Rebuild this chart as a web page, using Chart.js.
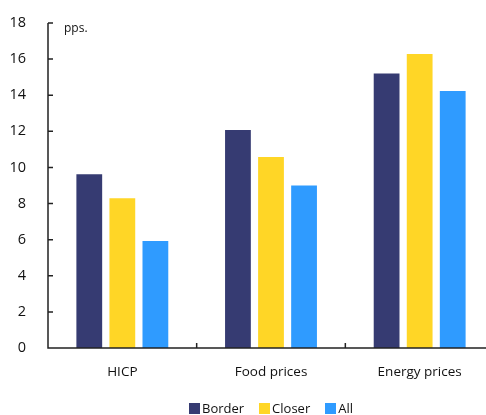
<!DOCTYPE html>
<html><head><meta charset="utf-8">
<script src="https://cdn.jsdelivr.net/npm/chart.js@4/dist/chart.umd.min.js"></script>
<style>
html,body{margin:0;padding:0;overflow:hidden;background:#fff;width:486px;height:415px;}
#wrap{position:relative;width:494px;height:415px;}
#legend{position:absolute;top:400px;left:189px;display:flex;font-family:"Open Sans",sans-serif;font-size:13px;color:#111;line-height:16px;}
#legend span{display:inline-flex;align-items:center;margin-right:15px}
#legend i{display:inline-block;width:11px;height:11px;margin-right:2px}
</style></head>
<body><div id="wrap"><canvas id="c" width="494" height="415"></canvas><div id="legend"></div></div>
<script>
const categories = ["HICP", "Food prices", "Energy prices"];
const border = [9.63, 12.07, 15.21];
const closer = [8.29, 10.58, 16.28];
const all = [5.92, 9.0, 14.23];
const seriesNames = ["Border", "Closer", "All"];
const colors = ["#363b72", "#ffd626", "#2f9bff"];
const yTicks = [0,2,4,6,8,10,12,14,16,18];

const FONT = "'Open Sans', sans-serif";
const axisPlugin = {
  id: 'axisPlugin',
  afterDraw(chart) {
    const ctx = chart.ctx, a = chart.chartArea;
    const y = chart.scales.y, x = chart.scales.x;
    ctx.save();
    ctx.strokeStyle = '#222'; ctx.lineWidth = 1.5;
    ctx.beginPath();
    ctx.moveTo(a.left, y.getPixelForValue(18)); ctx.lineTo(a.left, a.bottom);
    ctx.lineTo(a.right, a.bottom);
    yTicks.forEach(v => { const py = y.getPixelForValue(v); ctx.moveTo(a.left, py); ctx.lineTo(a.left + 5, py); });
    for (let i = 1; i < categories.length; i++) {
      const px = (x.getPixelForValue(i - 1) + x.getPixelForValue(i)) / 2;
      ctx.moveTo(px, a.bottom); ctx.lineTo(px, a.bottom - 5);
    }
    ctx.stroke();
    ctx.fillStyle = '#111'; ctx.font = '12px ' + FONT; ctx.textBaseline = 'middle';
    ctx.fillText('pps.', a.left + 16, y.getPixelForValue(17.7));
    ctx.restore();
  }
};

new Chart(document.getElementById('c'), {
  type: 'bar',
  data: {
    labels: categories,
    datasets: [border, closer, all].map((d, i) => ({
      label: seriesNames[i], data: d, backgroundColor: colors[i],
      barPercentage: 0.78, categoryPercentage: 0.667
    }))
  },
  options: {
    responsive: false, animation: false,
    layout: { padding: { top: 23, left: 0, right: 0, bottom: 0 } },
    plugins: { legend: { display: false }, tooltip: { enabled: false } },
    scales: {
      x: {
        grid: { display: false }, border: { display: false },
        ticks: { color: '#111', font: { family: FONT, size: 13.5 }, padding: 8, maxRotation: 0 },
        afterFit(s) { s.height = 67; }
      },
      y: {
        min: 0, max: 18,
        afterBuildTicks(s) { s.ticks = yTicks.map(v => ({ value: v })); },
        grid: { display: false }, border: { display: false },
        ticks: { color: '#111', font: { family: FONT, size: 14.5 }, padding: 14 },
        afterFit(s) { s.width = 48; }
      }
    }
  },
  plugins: [axisPlugin]
});

const lg = document.getElementById('legend');
seriesNames.forEach((n, i) => {
  const s = document.createElement('span');
  s.innerHTML = '<i style="background:' + colors[i] + '"></i>' + n;
  lg.appendChild(s);
});
</script></body></html>
